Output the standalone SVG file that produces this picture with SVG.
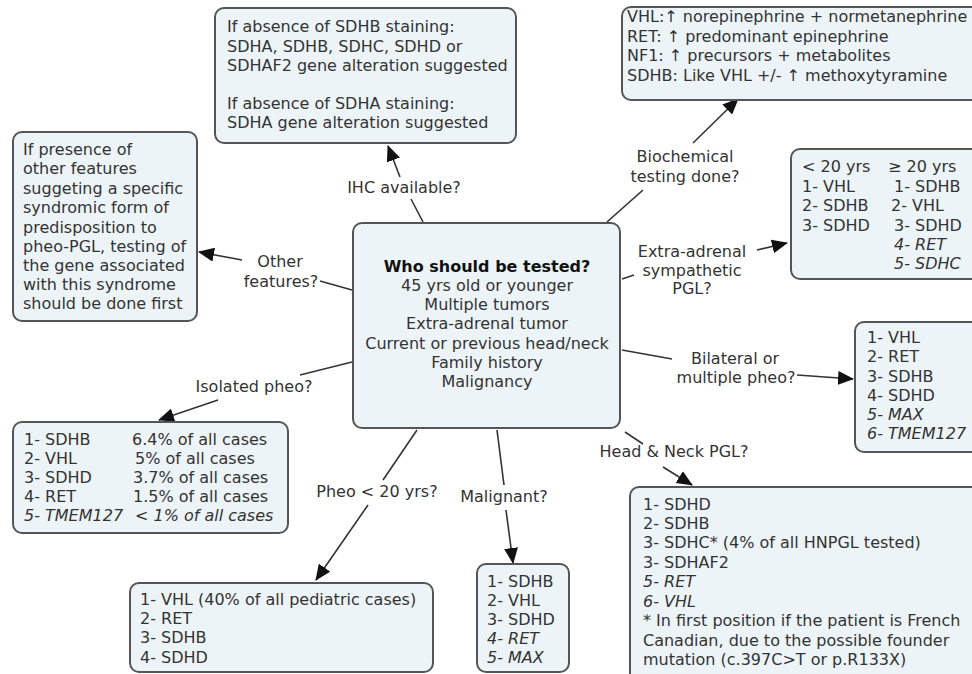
<svg xmlns="http://www.w3.org/2000/svg" width="972" height="674" viewBox="0 0 972 674">
<style>
.box{fill:#edf4f8;stroke:#555;stroke-width:2}
text{font-family:"DejaVu Sans","Verdana",sans-serif;font-size:16px;fill:#333}
.c{text-anchor:middle}
.b{font-weight:bold;fill:#111}
.i{font-style:italic}
.ln{stroke:#333;stroke-width:1.6;fill:none}
.ar{stroke:#333;stroke-width:1.6;fill:none;marker-end:url(#ah)}
</style>
<defs>
<marker id="ah" markerUnits="userSpaceOnUse" markerWidth="16" markerHeight="14" refX="15" refY="7" orient="auto">
<path d="M0,0 L16,7 L0,14 Z" fill="#111"/>
</marker>
</defs>
<rect width="972" height="674" fill="#fff"/>
<g id="connectors">
<line class="ln" x1="411" y1="199" x2="423" y2="222"/>
<line class="ar" x1="400" y1="177" x2="388" y2="146"/>
<line class="ln" x1="643" y1="190" x2="607" y2="222"/>
<line class="ar" x1="693" y1="143" x2="738" y2="99"/>
<line class="ln" x1="622" y1="279" x2="634" y2="275"/>
<line class="ar" x1="757" y1="250" x2="787" y2="243"/>
<line class="ln" x1="320" y1="281" x2="352" y2="290"/>
<line class="ar" x1="242" y1="260" x2="199" y2="252"/>
<line class="ln" x1="352" y1="362" x2="300" y2="375"/>
<line class="ar" x1="218" y1="400" x2="159" y2="420"/>
<line class="ln" x1="622" y1="350" x2="672" y2="359"/>
<line class="ar" x1="797" y1="375" x2="853" y2="379"/>
<line class="ln" x1="625" y1="432" x2="643" y2="444"/>
<line class="ar" x1="663" y1="467" x2="692" y2="485"/>
<line class="ln" x1="417" y1="430" x2="383" y2="480"/>
<line class="ar" x1="368" y1="505" x2="316" y2="580"/>
<line class="ln" x1="497" y1="430" x2="504" y2="485"/>
<line class="ar" x1="506" y1="510" x2="513" y2="563"/>
</g>
<g id="labels">
<text class="c" x="404" y="193">IHC available?</text>
<text class="c" x="685" y="162">Biochemical</text>
<text class="c" x="685" y="182">testing done?</text>
<text class="c" x="692" y="257">Extra-adrenal</text>
<text class="c" x="692" y="276">sympathetic</text>
<text class="c" x="692" y="294">PGL?</text>
<text class="c" x="280" y="267">Other</text>
<text class="c" x="281" y="287">features?</text>
<text class="c" x="254" y="392">Isolated pheo?</text>
<text class="c" x="735" y="364">Bilateral or</text>
<text class="c" x="736" y="383">multiple pheo?</text>
<text class="c" x="674" y="457">Head &amp; Neck PGL?</text>
<text class="c" x="377" y="497">Pheo &lt; 20 yrs?</text>
<text class="c" x="504" y="502">Malignant?</text>
</g>
<g id="center">
<rect class="box" x="353" y="223" width="267" height="205" rx="9"/>
<text class="c b" x="487" y="272">Who should be tested?</text>
<text class="c" x="487" y="291">45 yrs old or younger</text>
<text class="c" x="487" y="310">Multiple tumors</text>
<text class="c" x="487" y="329">Extra-adrenal tumor</text>
<text class="c" x="487" y="349">Current or previous head/neck</text>
<text class="c" x="487" y="368">Family history</text>
<text class="c" x="487" y="387">Malignancy</text>
</g>
<g id="ihc">
<rect class="box" x="215" y="8" width="301" height="135" rx="9"/>
<text x="227" y="32">If absence of SDHB staining:</text>
<text x="227" y="52">SDHA, SDHB, SDHC, SDHD or</text>
<text x="227" y="71">SDHAF2 gene alteration suggested</text>
<text x="227" y="109">If absence of SDHA staining:</text>
<text x="227" y="128">SDHA gene alteration suggested</text>
</g>
<g id="biochemical">
<rect class="box" x="622" y="7" width="360" height="93" rx="9"/>
<text x="627" y="22">VHL:↑ norepinephrine + normetanephrine</text>
<text x="627" y="42">RET: ↑ predominant epinephrine</text>
<text x="627" y="61">NF1: ↑ precursors + metabolites</text>
<text x="627" y="81">SDHB: Like VHL +/- ↑ methoxytyramine</text>
</g>
<g id="extra-adrenal">
<rect class="box" x="791" y="149" width="191" height="130" rx="9"/>
<text x="802" y="172">&lt; 20 yrs</text>
<text x="802" y="192">1- VHL</text>
<text x="802" y="211">2- SDHB</text>
<text x="802" y="231">3- SDHD</text>
<text x="888" y="172">≥ 20 yrs</text>
<text x="894" y="192">1- SDHB</text>
<text x="891" y="211">2- VHL</text>
<text x="894" y="231">3- SDHD</text>
<text class="i" x="894" y="250">4- RET</text>
<text class="i" x="894" y="269">5- SDHC</text>
</g>
<g id="other-features">
<rect class="box" x="13" y="132" width="184" height="189" rx="9"/>
<text x="23" y="155">If presence of</text>
<text x="23" y="174">other features</text>
<text x="23" y="194">suggeting a specific</text>
<text x="23" y="213">syndromic form of</text>
<text x="23" y="233">predisposition to</text>
<text x="23" y="252">pheo-PGL, testing of</text>
<text x="23" y="271">the gene associated</text>
<text x="23" y="290">with this syndrome</text>
<text x="23" y="309">should be done first</text>
</g>
<g id="isolated">
<rect class="box" x="13" y="422" width="275" height="111" rx="9"/>
<text x="24" y="445">1- SDHB</text>
<text x="24" y="464">2- VHL</text>
<text x="24" y="483">3- SDHD</text>
<text x="24" y="502">4- RET</text>
<text class="i" x="24" y="521">5- TMEM127</text>
<text x="132" y="445">6.4% of all cases</text>
<text x="135" y="464">5% of all cases</text>
<text x="133" y="483">3.7% of all cases</text>
<text x="133" y="502">1.5% of all cases</text>
<text class="i" x="135" y="521">&lt; 1% of all cases</text>
</g>
<g id="bilateral">
<rect class="box" x="855" y="322" width="127" height="130" rx="9"/>
<text x="867" y="343">1- VHL</text>
<text x="867" y="362">2- RET</text>
<text x="867" y="382">3- SDHB</text>
<text x="867" y="401">4- SDHD</text>
<text class="i" x="867" y="420">5- MAX</text>
<text class="i" x="867" y="439">6- TMEM127</text>
</g>
<g id="head-neck">
<rect class="box" x="630" y="487" width="352" height="195" rx="9"/>
<text x="643" y="510">1- SDHD</text>
<text x="643" y="529">2- SDHB</text>
<text x="643" y="548">3- SDHC* (4% of all HNPGL tested)</text>
<text x="643" y="568">3- SDHAF2</text>
<text class="i" x="643" y="587">5- RET</text>
<text class="i" x="643" y="607">6- VHL</text>
<text x="643" y="626">* In first position if the patient is French</text>
<text x="643" y="646">Canadian, due to the possible founder</text>
<text x="643" y="665">mutation (c.397C&gt;T or p.R133X)</text>
</g>
<g id="pheo-under-20">
<rect class="box" x="130" y="583" width="303" height="89" rx="9"/>
<text x="140" y="605">1- VHL (40% of all pediatric cases)</text>
<text x="140" y="624">2- RET</text>
<text x="140" y="643">3- SDHB</text>
<text x="140" y="663">4- SDHD</text>
</g>
<g id="malignant">
<rect class="box" x="477" y="564" width="92" height="108" rx="9"/>
<text x="487" y="587">1- SDHB</text>
<text x="487" y="606">2- VHL</text>
<text x="487" y="625">3- SDHD</text>
<text class="i" x="487" y="644">4- RET</text>
<text class="i" x="487" y="663">5- MAX</text>
</g>
</svg>
